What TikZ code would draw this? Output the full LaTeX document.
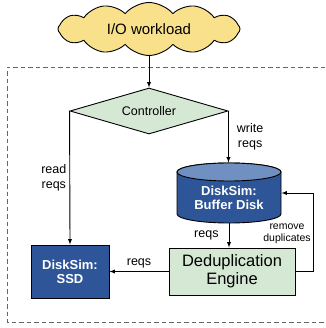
\documentclass[tikz,border=0pt]{standalone}
\usepackage{fontspec}
\setmainfont{Liberation Sans}
\usepackage{xcolor}
\usetikzlibrary{arrows,shapes.geometric,shapes.symbols,positioning}
\definecolor{diskblue}{HTML}{2E5597}
\definecolor{disktop}{HTML}{7090C2}
\definecolor{ctrlgreen}{HTML}{D5E8D4}
\definecolor{cloudyellow}{HTML}{F9E18C}
\definecolor{framegray}{HTML}{666666}

\begin{document}
\begin{tikzpicture}[->, >=latex, auto, x=1pt, y=-1pt, line width=0.9pt, inner sep=3pt,
  disk/.style={draw, fill=diskblue, text=white, align=center, font=\fontsize{13}{14}\selectfont\bfseries},
  lbl/.style={align=center, font=\fontsize{12.5}{14.5}\selectfont}]
%
\useasboundingbox (0,0) rectangle (325,328);
\draw[-, framegray, dash pattern=on 4.5pt off 3pt] (325,67) -- (7,67) -- (7,322) -- (325,322);
%
\node (load) [cloud, cloud puffs=12, cloud puff arc=100, cloud ignores aspect, draw, fill=cloudyellow, minimum width=182, minimum height=53, inner sep=0pt, font=\fontsize{15}{17}\selectfont] at (149,29) {I/O workload};
\node (ctrl) [diamond, draw, fill=ctrlgreen, aspect=3.4, minimum width=158, minimum height=46, inner sep=0pt, font=\fontsize{12.5}{14}\selectfont] at (149,111) {Controller};
%
% buffer disk drawn as a cylinder
\fill[diskblue, draw=black] (177,172) -- (177,214) arc[start angle=180, end angle=360, x radius=52pt, y radius=9pt] -- (281,172) arc[start angle=0, end angle=180, x radius=52pt, y radius=9pt] -- cycle;
\draw[-, fill=disktop] (229,172) ellipse[x radius=52pt, y radius=9pt];
\node (buffer) [minimum width=104, minimum height=60, inner sep=0pt] at (229,193) {};
\node (buftext) [text=white, align=center, font=\fontsize{13}{14}\selectfont\bfseries] at (229,198) {DiskSim:\\Buffer Disk};
%
\node (ssd) [disk, minimum width=78, minimum height=53] at (70,271.5) {DiskSim:\\SSD};
\node (dedup) [draw, fill=ctrlgreen, minimum width=126, minimum height=47, align=center, font=\fontsize{16.5}{18}\selectfont] at (232,271.5) {Deduplication\\Engine};
%
\path (load) edge (ctrl);
\path (ctrl.west) edge node[swap, lbl] {read\\reqs} (ssd.north);
\path (ctrl.east) edge node[lbl, xshift=5] {write\\reqs} (ctrl.east |- buffer.north);
\path (buffer.south) edge node[swap, lbl, xshift=-7] {reqs} (buffer.south |- dedup.north);
\path (dedup.west) edge node[swap, lbl] {reqs} (ssd.east);
\draw (dedup.east) -- ++(18,0) |- (buffer.east);
\node (dup) [align=center, font=\fontsize{10.5}{12}\selectfont] at (287,234) {remove\\duplicates};
\end{tikzpicture}
\end{document}
